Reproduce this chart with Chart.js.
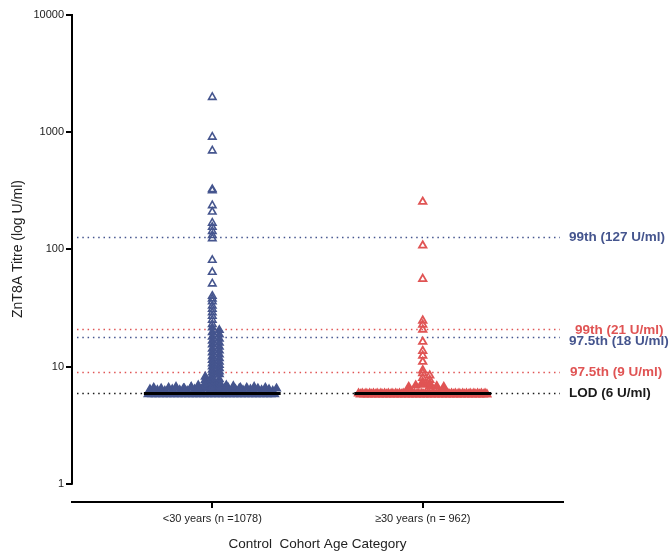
<!DOCTYPE html>
<html>
<head>
<meta charset="utf-8">
<script src="https://cdn.jsdelivr.net/npm/chart.js@4/dist/chart.umd.min.js"></script>
<style>
  html, body { margin: 0; padding: 0; background: #fff; }
</style>
</head>
<body>
<canvas id="titreChart" width="671" height="553"></canvas>
<script>
// categories
const groupLabels = ['<30 years (n =1078)', '\u226530 years (n = 962)'];

// titres at / near the LOD floor (band under each group)
const youngBand = [
  5.8, 6.4, 5.8, 6.6, 5.8, 6.3, 5.8, 6.5, 5.8, 6.2, 5.8, 6.6, 5.8, 6.4, 5.8, 6.7, 5.8, 6.3, 5.8, 6.5,
  5.8, 6.2, 5.8, 6.6, 5.8, 6.4, 5.8, 6.3, 5.8, 6.5, 5.8, 6.6, 5.8, 6.2, 5.8, 6.4, 5.8, 6.7, 5.8, 6.3,
  5.8, 6.5, 5.8, 6.6, 5.8, 6.2, 5.8, 6.4, 5.8, 6.5, 5.8, 6.3, 5.8, 6.6, 5.8, 6.4, 5.8, 6.7, 5.8, 6.5,
  5.8, 6.3, 5.8, 6.6, 5.8, 6.4, 5.8, 6.2, 5.8, 6.5
];
const oldBand = [
  5.9, 5.8, 5.9, 5.8, 5.9, 5.8, 5.9, 5.8, 5.9, 5.8, 5.9, 5.8, 5.9, 5.8, 5.9, 5.8, 5.9, 5.8, 5.9, 5.8,
  5.9, 5.8, 5.9, 5.8, 5.9, 5.8, 5.9, 5.8, 5.9, 5.8, 5.9, 5.8, 5.9, 5.8, 5.9, 5.8, 5.9, 5.8, 5.9, 5.8,
  5.9, 5.8, 5.9, 5.8, 5.9, 5.8, 5.9, 5.8, 5.9, 5.8, 5.9, 5.8, 5.9, 5.8, 5.9, 5.8, 5.9, 5.8, 5.9, 5.8,
  5.9, 5.8, 5.9, 5.8, 5.9, 5.8, 5.9, 5.8, 5.9, 5.8
];

// titres above the floor (the column over each group)
const youngColumn = [
  1990, 910, 695, 325, 318, 237, 209, 168, 155, 143, 132, 124, 81, 64, 51, 40, 38, 36, 33, 31,
  29, 27, 25, 23, 21.5, 20.5, 19.6, 18.8, 18, 17.3, 16.6, 16, 15.4, 14.8, 14.2, 13.7, 13.2, 12.7,
  12.2, 11.8, 11.4, 11, 10.6, 10.3, 10, 9.7, 9.4, 9.1, 8.9, 8.6, 8.4, 8.2, 8, 7.8, 7.7, 7.5, 7.4,
  7.2, 7.1, 7.0, 6.9, 6.9, 6.8, 6.8, 6.7, 6.7, 6.6, 6.6, 6.5, 6.5, 6.5
];
const oldColumn = [
  255, 108, 56, 24.7, 22.8, 20.7, 16.3, 13.6, 12.4, 11, 9.3, 8.8, 8.4, 8.0, 7.7, 7.4, 7.2,
  7.0, 6.9, 6.8, 6.8, 6.7, 6.7
];

const medians = [5.9, 5.9];

// reference lines
const refValues = [127, 21, 18, 9, 6];
const refLabels = ['99th (127 U/ml)', '99th (21 U/ml)', '97.5th (18 U/ml)', '97.5th (9 U/ml)', 'LOD (6 U/ml)'];

const yTicks = [1, 10, 100, 1000, 10000];

const BLUE = '#45558e';
const RED = '#e05454';
const refColours = [BLUE, RED, BLUE, RED, '#1a1a1a'];
const labelShift = [[0, 0], [6, 1], [0, 5], [1, 0], [0, 1]];

const PX_PER_DECADE = 118;
const PX_PER_GROUP = 210;

// spread band points evenly across the group width
function bandPoints(values, centre) {
  const half = 0.305;
  return values.map((v, i) => ({ x: centre - half + 2 * half * i / (values.length - 1), y: v }));
}

// simple swarm: nudge sideways when points in the dense part would sit on each other
function columnPoints(values, centre) {
  const placed = [];
  return values.slice().sort((a, b) => b - a).map(v => {
    const py = Math.log10(v) * PX_PER_DECADE;
    let k = 0, px = 0;
    if (v < 25) {
      while (true) {
        px = k === 0 ? 0 : (k % 2 ? 1 : -1) * Math.ceil(k / 2) * 3.5;
        if (!placed.some(p => Math.abs(p.py - py) < 2.5 && Math.abs(p.px - px) < 4)) break;
        k++;
      }
    }
    placed.push({ px, py });
    return { x: centre + px / PX_PER_GROUP, y: v };
  });
}

function medianLine(value, centre) {
  return [{ x: centre - 0.325, y: value }, { x: centre + 0.325, y: value }];
}

const refLines = {
  id: 'refLines',
  beforeDatasetsDraw(chart) {
    const { ctx, chartArea, scales: { y } } = chart;
    ctx.save();
    ctx.lineWidth = 1.5;
    ctx.setLineDash([1.5, 3.8]);
    refValues.forEach((v, i) => {
      const py = Math.round(y.getPixelForValue(v)) + 0.5;
      ctx.strokeStyle = refColours[i];
      ctx.beginPath();
      ctx.moveTo(chartArea.left + 5, py);
      ctx.lineTo(chartArea.right - 3, py);
      ctx.stroke();
    });
    ctx.restore();
  },
  afterDraw(chart) {
    const { ctx, chartArea, scales: { y } } = chart;
    ctx.save();
    // y axis line only spans 1 .. 10000
    ctx.strokeStyle = '#000';
    ctx.lineWidth = 2;
    ctx.beginPath();
    ctx.moveTo(chartArea.left, y.getPixelForValue(10000) - 1);
    ctx.lineTo(chartArea.left, y.getPixelForValue(1) + 1);
    ctx.stroke();

    ctx.font = 'bold 13.5px "Liberation Sans", Arial, sans-serif';
    ctx.textBaseline = 'middle';
    ctx.textAlign = 'left';
    refValues.forEach((v, i) => {
      ctx.fillStyle = refColours[i];
      ctx.fillText(refLabels[i], chartArea.right + 6 + labelShift[i][0], y.getPixelForValue(v) + labelShift[i][1]);
    });

    // y title
    ctx.translate(18, 249);
    ctx.rotate(-Math.PI / 2);
    ctx.textAlign = 'center';
    ctx.font = '14px "Liberation Sans", Arial, sans-serif';
    ctx.fillStyle = '#222';
    ctx.fillText('ZnT8A Titre (log U/ml)', 0, 0);
    ctx.restore();
  }
};

// open triangles, filled where the column is dense
const markers = (colour, width, fillBelow) => ({
  type: 'scatter',
  pointStyle: 'triangle',
  pointRadius: 4.3,
  borderColor: colour,
  backgroundColor: c => (c.raw && c.raw.y < fillBelow ? colour : 'rgba(255,255,255,0)'),
  borderWidth: width
});

new Chart(document.getElementById('titreChart'), {
  type: 'scatter',
  data: {
    datasets: [
      { data: medianLine(medians[0], 1), showLine: true, pointRadius: 0, borderColor: '#000', borderWidth: 3 },
      { data: medianLine(medians[1], 2), showLine: true, pointRadius: 0, borderColor: '#000', borderWidth: 3 },
      Object.assign(markers(BLUE, 1.6, 22), { data: columnPoints(youngColumn, 1) }),
      Object.assign(markers(BLUE, 1.6, 100), { data: bandPoints(youngBand, 1) }),
      Object.assign(markers(RED, 1.8, 7.5), { data: columnPoints(oldColumn, 2) }),
      Object.assign(markers(RED, 1.8, 100), { data: bandPoints(oldBand, 2) })
    ]
  },
  options: {
    responsive: false,
    animation: false,
    layout: { padding: { top: 15, right: 108, left: 0, bottom: 0 } },
    plugins: { legend: { display: false }, tooltip: { enabled: false } },
    scales: {
      x: {
        type: 'linear',
        min: 1 / 3,
        max: 8 / 3,
        afterBuildTicks: axis => { axis.ticks = [{ value: 1 }, { value: 2 }]; },
        afterFit: scale => { scale.height = 51; },
        ticks: {
          callback: v => groupLabels[v - 1],
          color: '#222',
          padding: 4,
          maxRotation: 0,
          font: { family: '"Liberation Sans", Arial, sans-serif', size: 11 }
        },
        grid: { drawOnChartArea: false, tickLength: 6, color: '#000', lineWidth: 2 },
        border: { color: '#000', width: 2 },
        title: {
          display: true,
          text: 'Control  Cohort Age Category',
          color: '#222',
          padding: { top: 4, bottom: 1 },
          font: { family: '"Liberation Sans", Arial, sans-serif', size: 13.5 }
        }
      },
      y: {
        type: 'logarithmic',
        min: Math.pow(10, -15 / 118),
        max: 10000,
        afterBuildTicks: axis => { axis.ticks = yTicks.map(v => ({ value: v })); },
        afterFit: scale => { scale.width = 72; },
        ticks: {
          callback: v => String(v),
          color: '#222',
          padding: 2,
          font: { family: '"Liberation Sans", Arial, sans-serif', size: 11 }
        },
        grid: { drawOnChartArea: false, tickLength: 6, color: '#000', lineWidth: 2 },
        border: { display: false }
      }
    }
  },
  plugins: [refLines]
});
</script>
</body>
</html>
